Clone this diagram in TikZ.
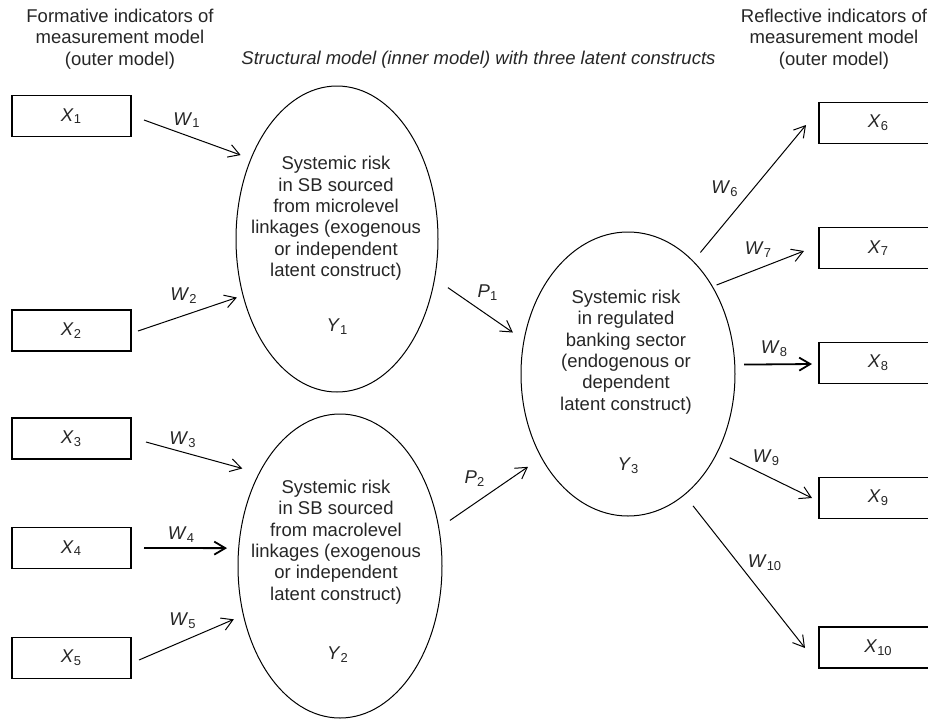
\documentclass[tikz,border=0pt]{standalone}
\usepackage{fontspec}
\setmainfont{Liberation Sans}
\usetikzlibrary{shapes.geometric,arrows.meta}
\colorlet{inkgray}{black!85}
\newcommand{\vx}[2]{\textit{#1}\textsubscript{#2}}

\begin{document}
\begin{tikzpicture}[
    x=0.5pt,
    y=-0.5pt,
    font=\fontsize{9.25pt}{10.7pt}\selectfont,
    text=inkgray,
    indicator/.style={draw, line width=0.6pt, minimum width=59.5pt, minimum height=20.5pt, inner sep=0pt, outer sep=0pt},
    construct/.style={draw, ellipse, line width=0.5pt, inner sep=0pt, outer sep=0pt},
    link/.style={-{Straight Barb[length=5.5pt,width=6.5pt]}, line width=0.5pt},
    heavy/.style={link, line width=0.9pt}
]
\useasboundingbox (0,0) rectangle (928,719);

\node[align=center] (formative) at (120,39) {Formative indicators of\\measurement model\\(outer model)};
\node[align=center] (reflective) at (834,39) {Reflective indicators of\\measurement model\\(outer model)};
\node (structural) at (478.5,60) {\itshape Structural model (inner model) with three latent constructs};

\node[indicator] (x1) at (71.5,116) {\vx{X}{1}};
\node[indicator] (x2) at (71.5,330.5) {\vx{X}{2}};
\node[indicator] (x3) at (71.5,438.5) {\vx{X}{3}};
\node[indicator] (x4) at (71.5,548) {\vx{X}{4}};
\node[indicator] (x5) at (71.5,658) {\vx{X}{5}};
\node[indicator] (x6) at (878.5,123) {\vx{X}{6}};
\node[indicator] (x7) at (878.5,248) {\vx{X}{7}};
\node[indicator] (x8) at (878.5,363) {\vx{X}{8}};
\node[indicator] (x9) at (878.5,498) {\vx{X}{9}};
\node[indicator] (x10) at (878.5,647.5) {\vx{X}{10}};

\node[construct, minimum width=101pt, minimum height=153pt] (y1) at (337,239) {};
\node[construct, minimum width=102pt, minimum height=152pt] (y2) at (340,566) {};
\node[construct, minimum width=107pt, minimum height=142pt] (y3) at (628,374) {};

\node[align=center] (micro) at (336,218.5) {Systemic risk\\in SB sourced\\from microlevel\\linkages (exogenous\\or independent\\latent construct)};
\node[align=center] (macro) at (336,542) {Systemic risk\\in SB sourced\\from macrolevel\\linkages (exogenous\\or independent\\latent construct)};
\node[align=center] (banking) at (626,352) {Systemic risk\\in regulated\\banking sector\\(endogenous or\\dependent\\latent construct)};
\node (ly1) at (337.5,326.5) {\vx{Y}{1}};
\node (ly2) at (338,655) {\vx{Y}{2}};
\node (ly3) at (628.5,466) {\vx{Y}{3}};

\draw[link, shorten >=5.5pt] ([shift={(13,4)}]x1.east) -- (y1.137);
\draw[link, shorten >=3.3pt] ([shift={(7,0.5)}]x2.east) -- (y1.211);
\draw[link, shorten >=8.8pt] ([shift={(15,3.5)}]x3.east) -- (y2.131);
\draw[heavy, shorten >=5.85pt] ([shift={(13,0)}]x4.east) -- (y2.170);
\draw[link, shorten >=5.25pt] ([shift={(8,2)}]x5.east) -- (y2.207);
\draw[link, shorten <=8.1pt, shorten >=6.8pt] (y1.338) -- (y3.162);
\draw[link, shorten <=6.75pt, shorten >=8.2pt] (y2.21) -- (y3.224);
\draw[link, shorten <=5.75pt] (y3.60) -- ([shift={(-13,2)}]x6.west);
\draw[link, shorten <=2.25pt] (y3.46) -- ([shift={(-15,3)}]x7.west);
\draw[heavy, shorten <=4.65pt] (y3.5) -- ([shift={(-7,1)}]x8.west);
\draw[link, shorten <=6.75pt] (y3.319) -- ([shift={(-7,0)}]x9.west);
\draw[link, shorten <=7.1pt] (y3.295) -- ([shift={(-14,0.5)}]x10.west);

\node (w1) at (187,120) {\vx{W}{1}};
\node (w2) at (184,295.5) {\vx{W}{2}};
\node (w3) at (183,440) {\vx{W}{3}};
\node (w4) at (181.5,534.5) {\vx{W}{4}};
\node (w5) at (183,621) {\vx{W}{5}};
\node (p1) at (488,292.5) {\vx{P}{1}};
\node (p2) at (475,478.5) {\vx{P}{2}};
\node (w6) at (725,189) {\vx{W}{6}};
\node (w7) at (758.5,249.5) {\vx{W}{7}};
\node (w8) at (774.5,349) {\vx{W}{8}};
\node (w9) at (766.5,457.5) {\vx{W}{9}};
\node (w10) at (765,563) {\vx{W}{10}};
\end{tikzpicture}
\end{document}
